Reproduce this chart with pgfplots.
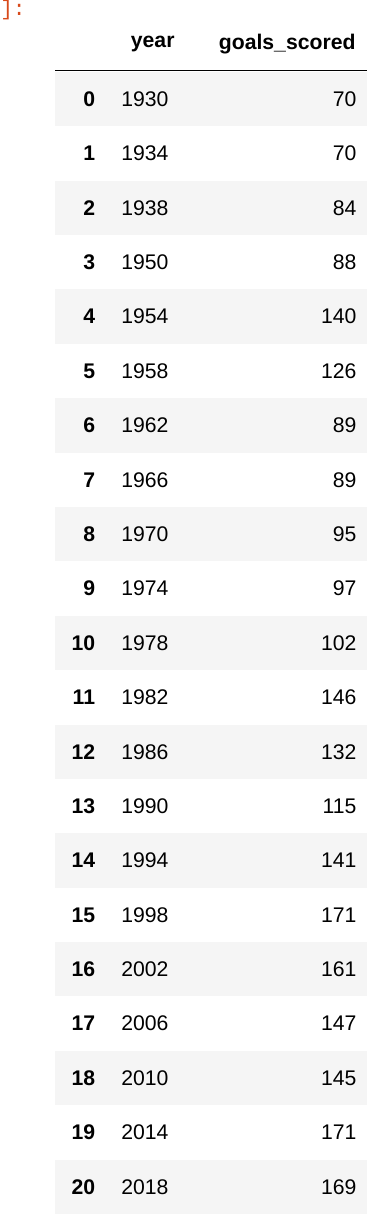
\documentclass[border=0pt]{standalone}
\usepackage{pgfplots}
\pgfplotsset{compat=1.18}
\usepackage{pgfplotstable}
\usepackage{fontspec}
\setmainfont{Liberation Sans}
\setmonofont{Liberation Mono}
\definecolor{stripe}{HTML}{F5F5F5}
\definecolor{prompt}{HTML}{D84A1B}
\pgfplotstableread{
x y label
97 99 0
97 152.05 1
97 205.1 2
97 258.15 3
97 311.2 4
97 364.25 5
97 417.3 6
97 470.35 7
97 523.4 8
97 576.45 9
97 629.5 10
97 682.55 11
97 735.6 12
97 788.65 13
97 841.7 14
97 894.75 15
97 947.8 16
97 1000.85 17
97 1053.9 18
97 1106.95 19
97 1160 20
}\idx
\pgfplotstableread{
x y label
122 99 1930
122 152.05 1934
122 205.1 1938
122 258.15 1950
122 311.2 1954
122 364.25 1958
122 417.3 1962
122 470.35 1966
122 523.4 1970
122 576.45 1974
122 629.5 1978
122 682.55 1982
122 735.6 1986
122 788.65 1990
122 841.7 1994
122 894.75 1998
122 947.8 2002
122 1000.85 2006
122 1053.9 2010
122 1106.95 2014
122 1160 2018
}\years
\pgfplotstableread{
x y label
352 99 70
352 152.05 70
352 205.1 84
352 258.15 88
352 311.2 140
352 364.25 126
352 417.3 89
352 470.35 89
352 523.4 95
352 576.45 97
352 629.5 102
352 682.55 146
352 735.6 132
352 788.65 115
352 841.7 141
352 894.75 171
352 947.8 161
352 1000.85 147
352 1053.9 145
352 1106.95 171
352 1160 169
}\goals
\begin{document}
\fontsize{15.5}{18}\selectfont
\begin{tikzpicture}
\begin{axis}[
  scale only axis, width=325.5pt, height=910.5pt,
  xmin=0, xmax=434, ymin=0, ymax=1214, y dir=reverse,
  axis lines=none, clip=false,
  nodes near coords style={font=\fontsize{15.5}{18}\selectfont, inner sep=0pt},
]
\addplot[fill=stripe, draw=none] coordinates {(58,72.5)(362,72.5)(362,125.5)(58,125.5)} -- cycle;
\addplot[fill=stripe, draw=none] coordinates {(58,178.6)(362,178.6)(362,231.6)(58,231.6)} -- cycle;
\addplot[fill=stripe, draw=none] coordinates {(58,284.7)(362,284.7)(362,337.7)(58,337.7)} -- cycle;
\addplot[fill=stripe, draw=none] coordinates {(58,390.8)(362,390.8)(362,443.8)(58,443.8)} -- cycle;
\addplot[fill=stripe, draw=none] coordinates {(58,496.9)(362,496.9)(362,549.9)(58,549.9)} -- cycle;
\addplot[fill=stripe, draw=none] coordinates {(58,603)(362,603)(362,656)(58,656)} -- cycle;
\addplot[fill=stripe, draw=none] coordinates {(58,709.1)(362,709.1)(362,762.1)(58,762.1)} -- cycle;
\addplot[fill=stripe, draw=none] coordinates {(58,815.2)(362,815.2)(362,868.2)(58,868.2)} -- cycle;
\addplot[fill=stripe, draw=none] coordinates {(58,921.3)(362,921.3)(362,974.3)(58,974.3)} -- cycle;
\addplot[fill=stripe, draw=none] coordinates {(58,1027.4)(362,1027.4)(362,1080.4)(58,1080.4)} -- cycle;
\addplot[fill=stripe, draw=none] coordinates {(58,1133.5)(362,1133.5)(362,1186.5)(58,1186.5)} -- cycle;
\addplot[black, line width=1.1pt] coordinates {(58,71)(362,71)};
\addplot[draw=none, mark=none, nodes near coords, point meta=explicit symbolic,
  nodes near coords style={anchor=east, font=\fontsize{15.5}{18}\selectfont\bfseries}]
  table[meta=label]{\idx};
\addplot[draw=none, mark=none, nodes near coords, point meta=explicit symbolic,
  nodes near coords style={anchor=west}]
  table[meta=label]{\years};
\addplot[draw=none, mark=none, nodes near coords, point meta=explicit symbolic,
  nodes near coords style={anchor=east}]
  table[meta=label]{\goals};
\addplot[draw=none, mark=none, nodes near coords, point meta=explicit symbolic,
  nodes near coords style={anchor=east, font=\fontsize{15.5}{18}\selectfont\bfseries}]
  coordinates {(174.5,45) [year] (351,45) [goals\_scored]};
\addplot[draw=none, mark=none, nodes near coords, point meta=explicit symbolic,
  nodes near coords style={anchor=west, text=prompt, font=\fontsize{15.5}{18}\selectfont\ttfamily}]
  coordinates {(4,12) [{]:}]};
\end{axis}
\end{tikzpicture}
\end{document}
